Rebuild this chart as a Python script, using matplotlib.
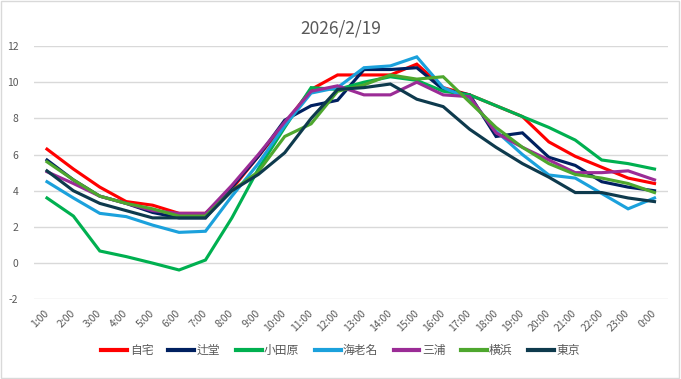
import numpy as np
import matplotlib
matplotlib.use("Agg")
import matplotlib.pyplot as plt
from matplotlib.patches import Rectangle

plt.rcParams['font.family'] = ['Noto Sans CJK JP', 'DejaVu Sans']
plt.rcParams['axes.unicode_minus'] = False

# データ（1:00〜0:00 の気温）
hours = [str(h) + ":00" for h in range(1, 24)] + ["0:00"]

jitaku = [6.3, 5.2, 4.2, 3.4, 3.2, 2.75, 2.75, 4.1, 5.9, 7.7, 9.6, 10.4,
          10.4, 10.4, 11.0, 9.7, 9.3, 8.7, 8.1, 6.7, 5.9, 5.3, 4.7, 4.4]
tsujido = [5.7, 4.6, 3.7, 3.3, 2.8, 2.5, 2.5, 4.2, 5.9, 7.9, 8.7, 9.0,
           10.7, 10.7, 10.8, 9.6, 9.3, 7.0, 7.2, 5.85, 5.4, 4.5, 4.2, 4.0]
odawara = [3.6, 2.6, 0.67, 0.36, 0.0, -0.38, 0.17, 2.5, 5.2, 7.5, 9.7, 9.6,
           10.0, 10.3, 10.1, 9.5, 9.3, 8.7, 8.1, 7.5, 6.8, 5.7, 5.5, 5.2]
ebina = [4.5, 3.6, 2.75, 2.57, 2.1, 1.7, 1.76, 3.7, 5.5, 7.6, 9.4, 9.7,
         10.8, 10.9, 11.4, 9.7, 9.1, 7.3, 6.0, 4.87, 4.7, 3.85, 3.0, 3.6]
miura = [5.05, 4.4, 3.7, 3.3, 2.9, 2.75, 2.75, 4.3, 6.0, 7.8, 9.5, 9.8,
         9.3, 9.3, 10.0, 9.3, 9.2, 7.2, 6.4, 5.7, 5.0, 5.0, 5.1, 4.6]
yokohama = [5.6, 4.6, 3.7, 3.3, 3.0, 2.6, 2.6, 4.0, 5.05, 7.0, 7.7, 9.5,
            9.85, 10.4, 10.17, 10.3, 8.9, 7.5, 6.4, 5.5, 4.9, 4.7, 4.4, 3.9]
tokyo = [5.1, 4.0, 3.3, 2.9, 2.5, 2.5, 2.5, 4.0, 4.9, 6.1, 8.0, 9.6,
         9.7, 9.9, 9.06, 8.65, 7.4, 6.4, 5.5, 4.75, 3.9, 3.9, 3.6, 3.4]

names = ["自宅", "辻堂", "小田原", "海老名", "三浦", "横浜", "東京"]
series = [jitaku, tsujido, odawara, ebina, miura, yokohama, tokyo]
colors = ["#FF0000", "#002060", "#00B050", "#1BA1DC", "#9B2C96", "#4EA72E", "#0E3A4D"]

gray = "#595959"

fig = plt.figure(figsize=(6.81, 3.79), dpi=100)
ax = fig.add_axes([0.0496, 0.2103, 0.9309, 0.6683])

x = np.arange(len(hours))
for name, vals, c in zip(names, series, colors):
    ax.plot(x, vals, color=c, lw=2.25, label=name, solid_joinstyle='miter')

ax.set_xlim(-0.5, len(hours) - 0.5)
ax.set_ylim(-2, 12)
ax.set_yticks(np.arange(-2, 13, 2))
ax.set_xticks(x)
ax.set_xticklabels(hours, rotation=45, ha='right', va='center', rotation_mode='anchor')
ax.grid(axis='y', color='#D9D9D9', lw=1)
ax.set_axisbelow(True)
for s in ax.spines.values():
    s.set_visible(False)
ax.tick_params(axis='both', length=0, colors=gray, labelsize=7.5)
ax.tick_params(axis='y', pad=11)
ax.tick_params(axis='x', pad=9)

fig.text(0.5, 0.924, "2026/2/19", ha='center', va='center', fontsize=12.5, color=gray)

leg = ax.legend(loc='lower center', bbox_to_anchor=(0.5, 0.03), bbox_transform=fig.transFigure,
                ncol=7, frameon=False, fontsize=8.5, handlelength=2.2, handletextpad=0.2,
                columnspacing=1.3)
for t in leg.get_texts():
    t.set_color(gray)
for h in leg.get_lines():
    h.set_linewidth(3)

fig.patches.append(Rectangle((0.002, 0.003), 0.995, 0.994, transform=fig.transFigure,
                             fill=False, edgecolor='#D9D9D9', lw=1))

fig.savefig("out.png", dpi=100)
